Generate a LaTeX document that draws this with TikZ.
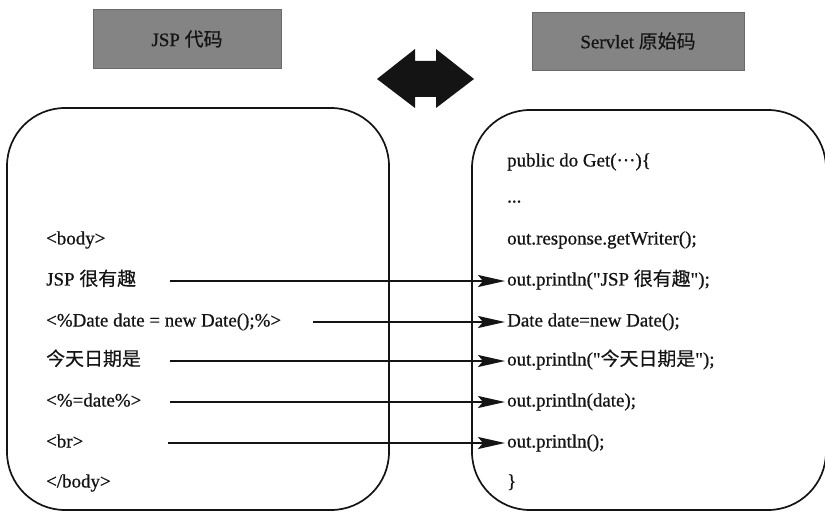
\documentclass[tikz,border=0pt]{standalone}
\usepackage{fontspec}
\setmainfont{Liberation Serif}[RawFeature={embolden=0.7}]
\newfontfamily\cjk{Noto Sans CJK SC}[RawFeature={embolden=0.3}]
\usetikzlibrary{arrows.meta}
\definecolor{ink}{RGB}{20,20,20}
\definecolor{boxgray}{RGB}{132,132,132}
\begin{document}
\begin{tikzpicture}[x=1bp,y=-1bp,
  code/.style={anchor=west, inner sep=2bp, text=ink, font=\fontsize{19}{21}\selectfont, text height=13bp, text depth=4bp},
  graybox/.style={fill=boxgray, draw=boxgray!80!black, line width=0.4bp, text=ink, font=\fontsize{19}{21}\selectfont, inner sep=0pt},
  panel/.style={draw=ink, line width=1.7bp, rounded corners=58bp, inner sep=0pt},
  link/.style={draw=ink, line width=2.2bp, -{Stealth[length=27bp,width=12bp,inset=5bp]}}
]
\useasboundingbox (0,0) rectangle (825,513);
\fill[white] (0,0) rectangle (825,513);

% header boxes
\node[graybox, minimum width=188bp, minimum height=59bp] (jsp) at (187,39) {JSP {\cjk 代码}};
\node[graybox, minimum width=212bp, minimum height=58bp] (srv) at (638,41) {Servlet {\cjk 原始码}};

% double arrow
\fill[ink] (377,79) -- (415,49) -- (415,61) -- (436,61) -- (436,49) -- (474,79)
  -- (436,108) -- (436,97) -- (415,97) -- (415,108) -- cycle;

% panels
\node[panel, minimum width=382bp, minimum height=402bp] (lp) at (198,309) {};
\node[panel, minimum width=354bp, minimum height=400bp] (rp) at (649,310) {};

% left code
\node[code] (l1) at (44,240) {<body>};
\node[code] (l2) at (44,281) {JSP {\cjk 很有趣}};
\node[code] (l3) at (44,322) {<\%Date date = new Date();\%>};
\node[code] (l4) at (44,361) {{\cjk 今天日期是}};
\node[code] (l5) at (44,402) {<\%=date\%>};
\node[code] (l6) at (44,443) {<br>};
\node[code] (l7) at (44,483) {</body>};

% right code
\node[code] (r1) at (505,162) {public do Get(···)\{};
\node[code] (r2) at (505,198) {...};
\node[code] (r3) at (505,240) {out.response.getWriter();};
\node[code] (r4) at (505,281) {out.println(\textquotedbl JSP {\cjk 很有趣}\textquotedbl);};
\node[code] (r5) at (505,322) {Date date=new Date();};
\node[code] (r6) at (505,361) {out.println(\textquotedbl{\cjk 今天日期是}\textquotedbl);};
\node[code] (r7) at (505,402) {out.println(date);};
\node[code] (r8) at (505,443) {out.println();};
\node[code] (r9) at (505,483) {\}};

% connectors
\coordinate (s2) at (170,281);
\coordinate (s3) at (313,322);
\coordinate (s4) at (170,361);
\coordinate (s5) at (170,402);
\coordinate (s6) at (168,443);
\draw[link] (s2) -- (r4.west);
\draw[link] (s3) -- (r5.west);
\draw[link] (s4) -- (r6.west);
\draw[link] (s5) -- (r7.west);
\draw[link] (s6) -- (r8.west);
\end{tikzpicture}
\end{document}
